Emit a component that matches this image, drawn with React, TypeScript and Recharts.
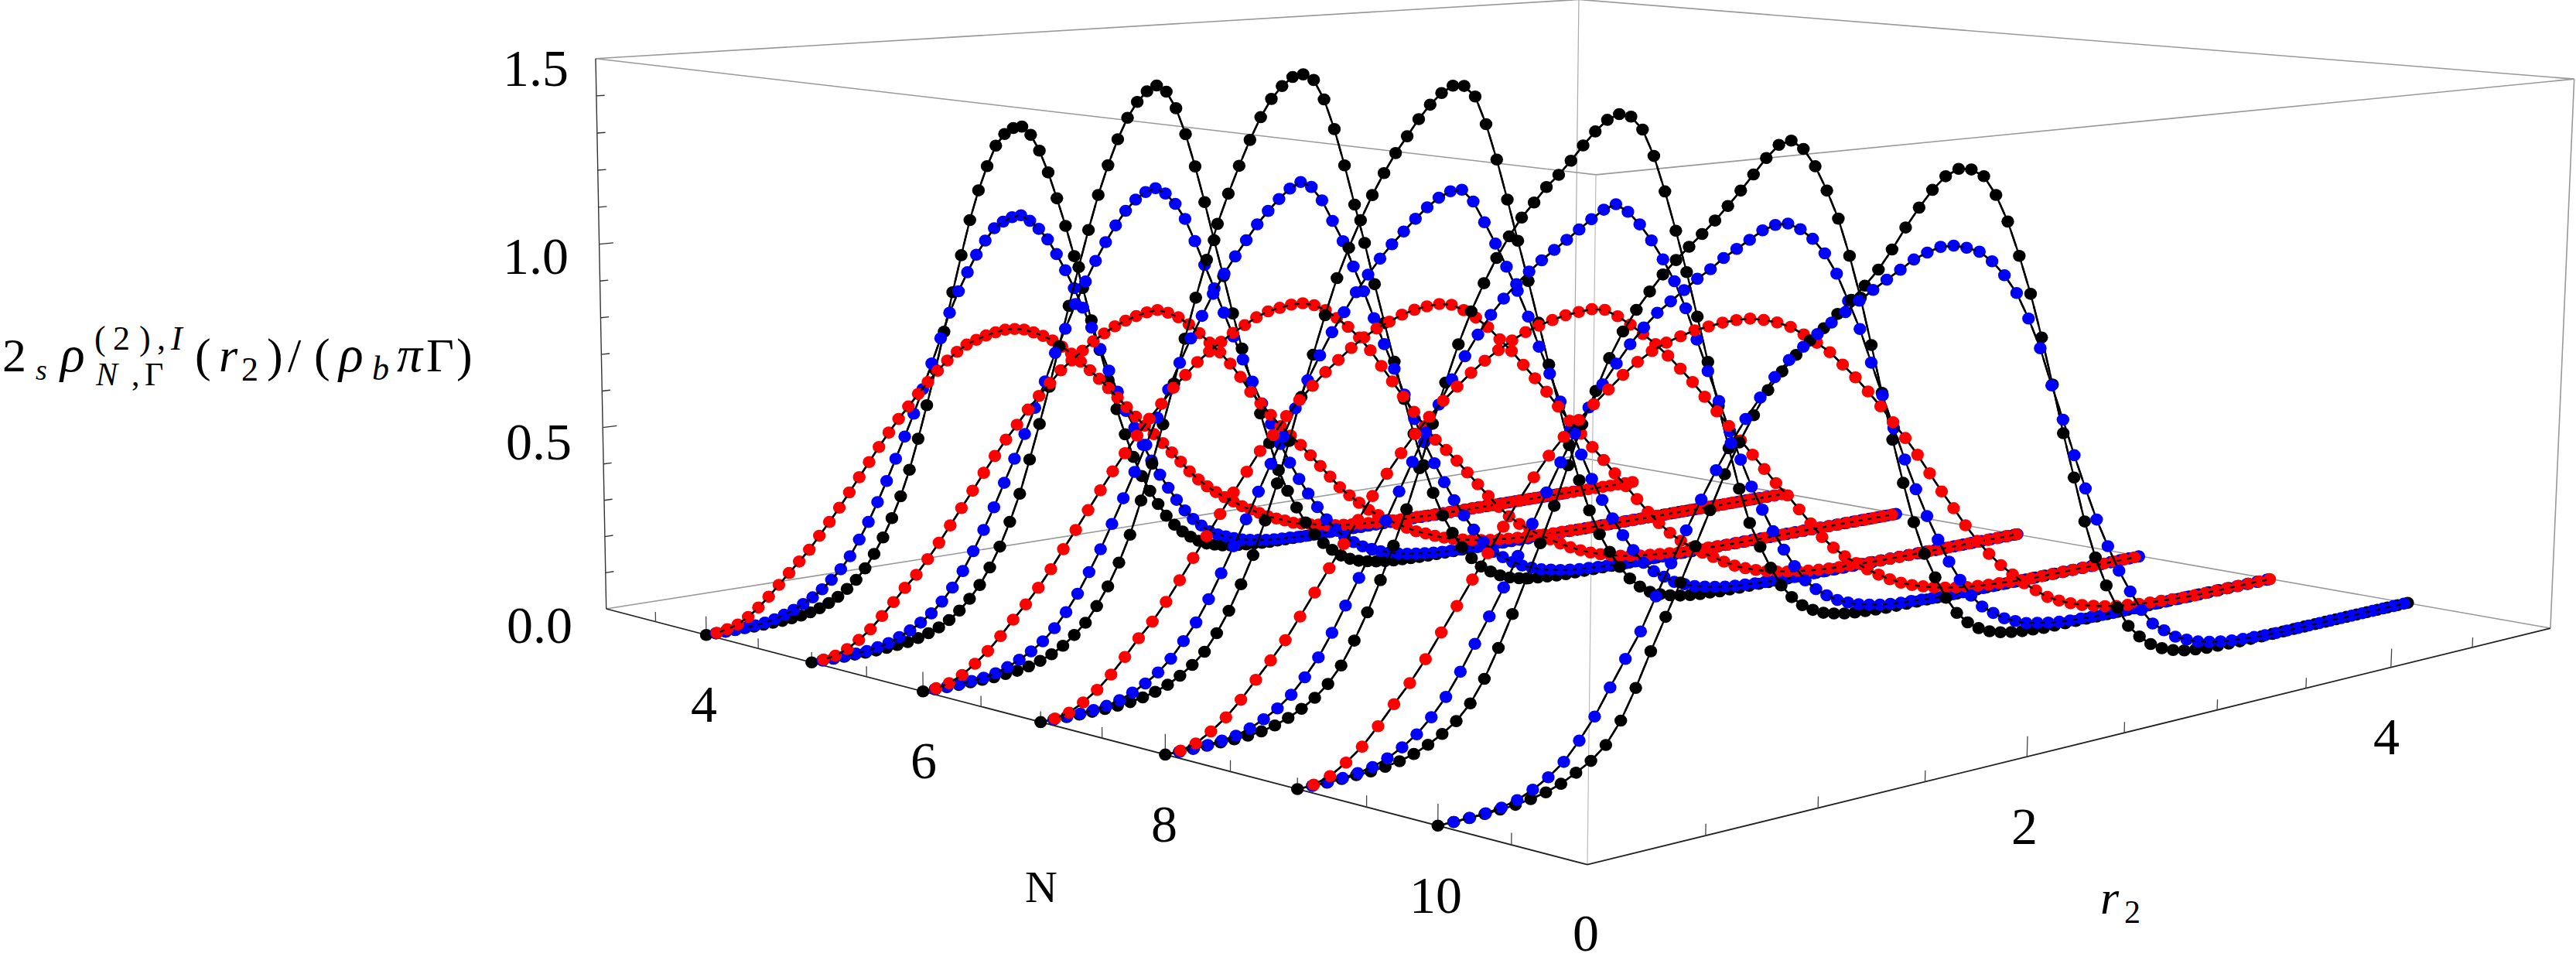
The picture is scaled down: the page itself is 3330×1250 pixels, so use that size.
import { ScatterChart, Scatter, XAxis, YAxis } from "recharts";

// sample spacing of r2 along each curve, one per N = 4..10
const blackSteps = [0.041, 0.0458, 0.0502, 0.0542, 0.058, 0.0615, 0.065];
const blueSteps = [0.042, 0.047, 0.0514, 0.0556, 0.0594, 0.063, 0.0664];
const redSteps = [0.045, 0.0503, 0.0551, 0.0595, 0.0636, 0.0675];
const maxSamples = 106;

// values, missing tail entries are zero
const black4 = [0,0,0,0,.001,.001,.002,.003,.004,.007,.01,.015,.022,.032,.045,.063,.084,.112,.148,.19,.24,.297,.367,.45,.54,.635,.738,.845,.945,1.04,1.12,1.185,1.24,1.27,1.285,1.287,1.262,1.216,1.153,1.078,.998,.91,.817,.722,.634,.545,.458,.382,.313,.254,.207,.165,.127,.097,.073,.054,.038,.026,.019,.013,.009,.006,.004,.003,.001];
const black5 = [0,0,0,0,.001,.001,.002,.004,.007,.01,.016,.024,.035,.05,.071,.098,.131,.174,.226,.289,.361,.45,.543,.64,.747,.853,.955,1.053,1.145,1.223,1.291,1.347,1.388,1.415,1.429,1.41,1.363,1.29,1.199,1.098,.99,.887,.78,.678,.58,.488,.4,.319,.256,.204,.157,.119,.089,.065,.044,.03,.02,.014,.009,.006,.003,.002,.001];
const black6 = [0,0,0,0,.001,.002,.003,.006,.009,.015,.024,.036,.053,.076,.103,.142,.189,.247,.316,.402,.495,.595,.699,.814,.919,1.016,1.108,1.185,1.256,1.322,1.38,1.426,1.458,1.48,1.485,1.468,1.414,1.332,1.232,1.123,1.016,.9,.79,.68,.573,.472,.38,.298,.23,.176,.131,.095,.066,.047,.031,.02,.013,.008,.005,.003,.001];
const black7 = [0,0,0,0,.001,.002,.004,.007,.013,.021,.033,.05,.072,.1,.142,.194,.257,.327,.411,.502,.607,.716,.821,.919,1.011,1.086,1.154,1.216,1.27,1.319,1.36,1.402,1.437,1.465,1.482,1.479,1.449,1.374,1.278,1.169,1.056,.945,.829,.712,.595,.484,.383,.295,.224,.17,.123,.085,.057,.037,.025,.016,.01,.006,.003,.002];
const black8 = [0,0,0,.001,.002,.003,.005,.009,.017,.029,.045,.066,.094,.134,.19,.255,.33,.411,.497,.595,.702,.801,.893,.972,1.039,1.099,1.15,1.194,1.229,1.265,1.293,1.326,1.362,1.395,1.422,1.434,1.425,1.389,1.318,1.223,1.117,1.005,.884,.76,.638,.52,.406,.308,.238,.175,.121,.083,.055,.036,.022,.014,.008,.005,.003,.001];
const black9 = [0,0,0,.001,.003,.004,.008,.014,.024,.039,.058,.082,.118,.171,.24,.316,.397,.477,.563,.657,.752,.829,.905,.966,1.015,1.056,1.094,1.126,1.155,1.183,1.213,1.246,1.281,1.318,1.356,1.386,1.394,1.37,1.323,1.258,1.183,1.084,.972,.845,.716,.588,.469,.359,.269,.2,.139,.092,.06,.038,.023,.014,.008,.004,.002];
const black10 = [0,0,.001,.002,.004,.007,.012,.02,.032,.05,.07,.1,.15,.22,.3,.375,.45,.53,.61,.69,.76,.82,.875,.915,.95,.98,1.005,1.035,1.065,1.095,1.13,1.175,1.225,1.27,1.31,1.34,1.355,1.35,1.33,1.28,1.21,1.12,1.02,.905,.78,.65,.53,.41,.31,.23,.165,.11,.075,.048,.03,.018,.01,.006,.003,.002,.001];

const blue4 = [0,0,0,.001,.002,.004,.007,.012,.02,.029,.041,.055,.073,.095,.12,.152,.194,.239,.29,.345,.403,.461,.521,.586,.654,.721,.789,.846,.896,.942,.979,1.011,1.027,1.037,1.04,1.022,.997,.965,.921,.873,.819,.761,.701,.637,.572,.508,.449,.397,.344,.295,.25,.208,.169,.134,.105,.082,.061,.048,.038,.029,.021,.016,.012,.008,.006,.004,.003,.001];
const blue5 = [0,0,0,.001,.003,.005,.01,.016,.027,.04,.056,.076,.103,.136,.176,.225,.278,.335,.397,.458,.521,.588,.656,.73,.792,.856,.914,.967,1.015,1.058,1.095,1.123,1.141,1.149,1.132,1.101,1.057,.993,.924,.856,.785,.715,.647,.581,.516,.454,.393,.336,.285,.239,.196,.156,.123,.096,.077,.06,.048,.037,.029,.021,.016,.012,.009,.006,.004,.003,.002,.001];
const blue6 = [0,0,.001,.002,.004,.007,.013,.023,.037,.053,.074,.103,.14,.183,.235,.29,.352,.415,.48,.547,.615,.685,.752,.813,.869,.924,.974,1.017,1.057,1.096,1.129,1.158,1.183,1.198,1.182,1.143,1.085,1.027,.955,.884,.807,.732,.66,.585,.513,.444,.381,.323,.268,.22,.175,.135,.102,.082,.063,.048,.037,.027,.021,.015,.011,.008,.006,.004,.003,.001];
const blue7 = [0,0,.001,.002,.005,.009,.017,.03,.047,.069,.098,.137,.179,.233,.294,.358,.422,.488,.555,.62,.689,.757,.817,.873,.921,.969,1.011,1.049,1.083,1.113,1.143,1.17,1.192,1.206,1.207,1.173,1.115,1.055,.99,.922,.849,.764,.687,.607,.528,.453,.381,.318,.262,.21,.163,.122,.093,.072,.052,.04,.029,.022,.016,.011,.008,.006,.004,.002,.001];
const blue8 = [0,0,.001,.002,.006,.011,.022,.038,.058,.085,.122,.165,.22,.282,.345,.41,.477,.545,.614,.682,.748,.807,.861,.911,.957,.994,1.027,1.055,1.08,1.103,1.125,1.148,1.171,1.192,1.203,1.18,1.144,1.099,1.046,.985,.91,.823,.735,.651,.565,.484,.406,.338,.274,.218,.167,.122,.092,.069,.05,.037,.026,.019,.013,.009,.006,.005,.003,.001];
const blue9 = [0,0,.001,.003,.007,.014,.027,.046,.07,.104,.146,.2,.261,.321,.385,.456,.528,.599,.667,.732,.791,.843,.889,.932,.969,1.001,1.025,1.049,1.073,1.093,1.117,1.136,1.155,1.175,1.185,1.185,1.167,1.139,1.098,1.042,.968,.891,.799,.709,.618,.53,.446,.369,.3,.235,.18,.131,.095,.071,.05,.036,.024,.018,.012,.008,.005,.004,.002,.001];
const blue10 = [0,0,.001,.003,.008,.017,.033,.054,.082,.124,.173,.234,.294,.352,.428,.5,.572,.639,.703,.762,.814,.86,.904,.94,.967,.993,1.016,1.037,1.06,1.082,1.103,1.123,1.144,1.157,1.167,1.166,1.157,1.143,1.115,1.076,1.027,.958,.878,.778,.685,.588,.496,.409,.333,.262,.201,.145,.102,.077,.053,.038,.026,.018,.012,.008,.005,.003,.001];

const red4 = [0,.001,.006,.014,.03,.051,.076,.104,.132,.159,.187,.221,.255,.29,.328,.366,.404,.442,.478,.512,.543,.574,.604,.632,.657,.678,.695,.705,.714,.72,.724,.723,.718,.707,.694,.678,.657,.634,.608,.58,.552,.522,.491,.46,.429,.399,.371,.341,.31,.279,.247,.219,.195,.174,.155,.138,.12,.106,.092,.078,.067,.057,.046,.039,.033,.028,.022,.018,.015,.012,.01,.008,.006,.005,.004,.003,.002,.002,.001];
const red5 = [0,.002,.007,.019,.038,.061,.091,.123,.156,.186,.223,.262,.304,.346,.388,.432,.473,.513,.549,.586,.619,.65,.681,.704,.727,.749,.767,.783,.795,.804,.811,.814,.803,.787,.764,.736,.706,.675,.64,.599,.553,.517,.48,.444,.413,.382,.348,.313,.278,.243,.215,.189,.164,.144,.125,.109,.093,.078,.067,.055,.045,.036,.03,.024,.019,.015,.012,.009,.007,.005,.004,.003,.002,.002,.001];
const red6 = [0,.002,.009,.024,.047,.074,.107,.144,.178,.216,.259,.306,.351,.398,.445,.49,.533,.575,.615,.65,.688,.718,.748,.772,.794,.814,.831,.848,.86,.866,.871,.871,.862,.845,.82,.792,.759,.72,.673,.626,.58,.533,.489,.446,.413,.378,.34,.302,.264,.228,.196,.169,.148,.127,.109,.092,.076,.062,.05,.04,.032,.025,.02,.015,.012,.009,.006,.004,.003,.002,.002,.001];
const red7 = [0,.002,.01,.029,.054,.086,.124,.165,.201,.245,.294,.345,.395,.446,.496,.544,.592,.628,.672,.709,.741,.772,.799,.826,.849,.868,.882,.896,.905,.91,.912,.906,.888,.864,.835,.798,.762,.721,.68,.639,.594,.551,.51,.469,.428,.386,.345,.304,.263,.226,.193,.165,.14,.12,.102,.083,.066,.053,.042,.033,.026,.02,.016,.011,.008,.006,.004,.003,.002,.001];
const red8 = [0,.002,.012,.034,.061,.097,.139,.18,.223,.275,.328,.382,.436,.49,.544,.594,.64,.683,.721,.756,.787,.817,.843,.865,.885,.902,.914,.924,.932,.936,.939,.933,.912,.886,.857,.826,.791,.752,.712,.668,.624,.58,.536,.492,.448,.404,.365,.321,.277,.233,.198,.168,.143,.119,.098,.079,.063,.05,.04,.031,.024,.018,.013,.01,.007,.005,.003,.001];
const red9 = [0,.002,.014,.038,.068,.109,.154,.197,.247,.304,.361,.418,.475,.533,.59,.641,.688,.728,.764,.797,.828,.859,.886,.908,.924,.935,.945,.95,.955,.957,.956,.948,.937,.921,.897,.871,.842,.805,.767,.725,.681,.634,.587,.537,.482,.428,.377,.325,.277,.235,.198,.166,.135,.109,.084,.067,.053,.041,.032,.024,.018,.014,.01,.007,.005,.003,.001];

const curves = [
  { n: 4, black: black4, blue: blue4, red: red4 },
  { n: 5, black: black5, blue: blue5, red: red5 },
  { n: 6, black: black6, blue: blue6, red: red6 },
  { n: 7, black: black7, blue: blue7, red: red7 },
  { n: 8, black: black8, blue: blue8, red: red8 },
  { n: 9, black: black9, blue: blue9, red: red9 },
  { n: 10, black: black10, blue: blue10, red: null },
];

const zTicks = [0.1, 0.2, 0.3, 0.4, 0.5, 0.6, 0.7, 0.8, 0.9, 1.0, 1.1, 1.2, 1.3, 1.4];
const nTicks = [3.5, 4, 4.5, 5, 5.5, 6, 6.5, 7, 7.5, 8, 8.5, 9, 9.5, 10, 10.5];
const rTicks = [0.5, 1, 1.5, 2, 2.5, 3, 3.5, 4, 4.5];

// perspective view of the 3D box
function project(n: number, r: number, z: number) {
  const u = (n - 3) / 8;
  const v = r / 5;
  const w = z / 1.5;
  const d = 1 - 0.2053 * u + 0.2066 * v - 0.0174 * w;
  return {
    x: (783.7 + 847 * u + 1670.5 * v - 27.1 * w) / d,
    y: (787 + 101.2 * u - 75.1 * v - 712.6 * w) / d,
  };
}

const hidden = () => null;

function Dot(color: string) {
  return (props: any) => <ellipse cx={props.cx} cy={props.cy} rx={8.2} ry={7.8} fill={color} />;
}

// short piece of the joining line that shows where neighbouring dots overlap
function Dash(props: any) {
  const { dx, dy } = props.payload;
  return (
    <line
      x1={props.cx - dx * 0.22}
      y1={props.cy - dy * 0.22}
      x2={props.cx + dx * 0.22}
      y2={props.cy + dy * 0.22}
      stroke="#000"
      strokeWidth={2.4}
    />
  );
}

function edge(key: string, a: number[], b: number[], color: string, width: number) {
  return (
    <Scatter
      key={key}
      data={[project(a[0], a[1], a[2]), project(b[0], b[1], b[2])]}
      line={{ stroke: color, strokeWidth: width }}
      shape={hidden}
      isAnimationActive={false}
    />
  );
}

function curve(key: string, n: number, vals: number[], step: number, color: string, from: number) {
  const pts = [];
  for (let i = from; i < maxSamples && i * step <= 5.01; i++) {
    pts.push(project(n, i * step, vals[i] ?? 0));
  }
  const mids = pts.slice(1).map((p, i) => ({
    x: (p.x + pts[i].x) / 2,
    y: (p.y + pts[i].y) / 2,
    dx: p.x - pts[i].x,
    dy: p.y - pts[i].y,
  }));
  return [
    <Scatter
      key={key}
      data={pts}
      line={{ stroke: "#000000", strokeWidth: 2.4 }}
      shape={Dot(color)}
      isAnimationActive={false}
    />,
    <Scatter key={key + "d"} data={mids} shape={Dash} isAnimationActive={false} />,
  ];
}

const serif = "Liberation Serif, Times New Roman, Times, serif";

const plainLabels = [
  { t: "1.5", x: 650, y: 111, s: 68 },
  { t: "1.0", x: 650, y: 354, s: 68 },
  { t: "0.5", x: 654, y: 594, s: 68 },
  { t: "0.0", x: 655, y: 831, s: 68 },
  { t: "4", x: 893, y: 933, s: 68 },
  { t: "6", x: 1177, y: 1006, s: 68 },
  { t: "8", x: 1488, y: 1088, s: 68 },
  { t: "10", x: 1822, y: 1180, s: 68 },
  { t: "0", x: 2033, y: 1229, s: 68 },
  { t: "2", x: 2600, y: 1091, s: 68 },
  { t: "4", x: 3068, y: 975, s: 68 },
  { t: "N", x: 1325, y: 1166, s: 58 },
];

// pieces of the z axis title and the r2 label
const titleParts = [
  { t: "2", x: 3, y: 480, s: 62 },
  { t: "s", x: 46, y: 491, s: 38, i: true },
  { t: "ρ", x: 78, y: 480, s: 66, i: true },
  { t: "(", x: 122, y: 452, s: 44 },
  { t: "2", x: 146, y: 452, s: 44 },
  { t: ")", x: 180, y: 452, s: 44 },
  { t: ",", x: 203, y: 452, s: 44 },
  { t: "I", x: 221, y: 452, s: 44, i: true },
  { t: "N", x: 124, y: 498, s: 42, i: true },
  { t: ",", x: 170, y: 498, s: 42 },
  { t: "Γ", x: 187, y: 498, s: 42 },
  { t: "(", x: 252, y: 480, s: 62 },
  { t: "r", x: 283, y: 480, s: 62, i: true },
  { t: "2", x: 312, y: 492, s: 44 },
  { t: ")", x: 345, y: 480, s: 62 },
  { t: "/", x: 372, y: 480, s: 62 },
  { t: "(", x: 406, y: 480, s: 62 },
  { t: "ρ", x: 438, y: 480, s: 66, i: true },
  { t: "b", x: 481, y: 491, s: 44, i: true },
  { t: "π", x: 513, y: 480, s: 66, i: true },
  { t: "Γ", x: 551, y: 480, s: 62 },
  { t: ")", x: 590, y: 480, s: 62 },
  { t: "r", x: 2715, y: 1181, s: 62, i: true },
  { t: "2", x: 2746, y: 1193, s: 42 },
];

export default function App() {
  return (
    <div style={{ position: "absolute", left: 0, top: 0, background: "#fff" }}>
      <ScatterChart width={3330} height={1250} margin={{ top: 0, right: 0, bottom: 0, left: 0 }}>
        <XAxis type="number" dataKey="x" domain={[0, 3330]} allowDataOverflow hide />
        <YAxis type="number" dataKey="y" domain={[0, 1250]} reversed allowDataOverflow hide />

        {edge("b1", [3, 5, 0], [11, 5, 0], "#999", 1.6)}
        {edge("b2", [3, 0, 0], [3, 5, 0], "#999", 1.6)}
        {edge("b3", [3, 5, 0], [3, 5, 1.5], "#aaa", 1.2)}
        {edge("b4", [3, 0, 1.5], [3, 5, 1.5], "#999", 1.6)}
        {edge("b5", [3, 5, 1.5], [11, 5, 1.5], "#999", 1.6)}
        {edge("b6", [3, 0, 1.5], [11, 0, 1.5], "#999", 1.6)}
        {edge("b7", [11, 0, 1.5], [11, 5, 1.5], "#999", 1.6)}
        {edge("b8", [11, 0, 0], [11, 0, 1.5], "#bbb", 1.2)}
        {edge("b9", [11, 5, 0], [11, 5, 1.5], "#999", 1.6)}
        {edge("a1", [3, 0, 0], [3, 0, 1.5], "#333", 1.4)}
        {edge("a2", [3, 0, 0], [11, 0, 0], "#222", 1.8)}
        {edge("a3", [11, 0, 0], [11, 5, 0], "#222", 1.8)}

        {zTicks.map((z) => edge(`z${z}`, [3, 0, z], [3, z === 0.5 || z === 1 ? 0.06 : 0.035, z], "#333", 1.4))}
        {nTicks.map((n) => edge(`n${n}`, [n, 0, 0], [n, 0, n % 2 === 0 ? 0.05 : 0.027], "#444", 1.3))}
        {rTicks.map((r) => edge(`r${r}`, [11, r, 0], [11, r, r % 2 === 0 ? 0.05 : 0.027], "#444", 1.3))}

        {curves.flatMap((c, idx) => {
          const out = [
            ...curve(`k${c.n}`, c.n, c.black, blackSteps[idx], "#000000", 0),
            ...curve(`b${c.n}`, c.n, c.blue, blueSteps[idx], "#0000ff", 1),
          ];
          if (c.red) out.push(...curve(`r${c.n}`, c.n, c.red, redSteps[idx], "#ff0000", 1));
          return out;
        })}

        {plainLabels.map((l) => (
          <text key={l.t + l.x} x={l.x} y={l.y} fontSize={l.s} fontFamily={serif} fill="#000">
            {l.t}
          </text>
        ))}
        {titleParts.map((l) => (
          <text
            key={l.t + l.x}
            x={l.x}
            y={l.y}
            fontSize={l.s}
            fontFamily={serif}
            fontStyle={l.i ? "italic" : "normal"}
            fill="#000"
          >
            {l.t}
          </text>
        ))}
      </ScatterChart>
    </div>
  );
}
